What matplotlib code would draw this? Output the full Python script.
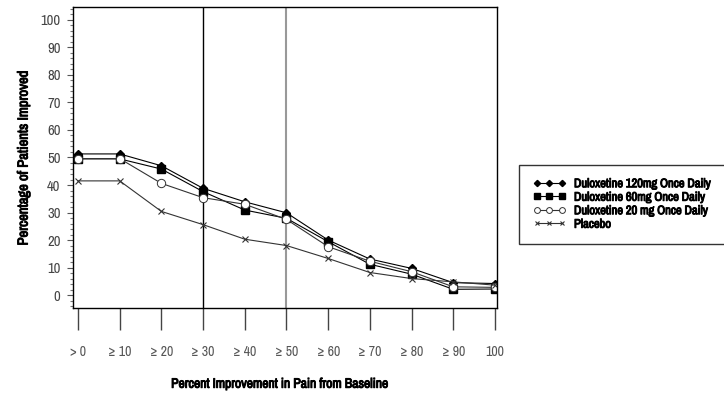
import matplotlib
matplotlib.use("Agg")
import matplotlib.pyplot as plt
import matplotlib.patheffects as pe
from matplotlib import font_manager
from matplotlib.ticker import MultipleLocator

# x categories (percent improvement in pain from baseline)
categories = ["> 0", "\u2265 10", "\u2265 20", "\u2265 30", "\u2265 40", "\u2265 50",
              "\u2265 60", "\u2265 70", "\u2265 80", "\u2265 90", "100"]

# percentage of patients improved
dlx_120 = [51.3, 51.3, 47.0, 38.8, 33.9, 29.9, 20.0, 13.1, 9.7, 4.5, 4.2]
dlx_60 = [49.5, 49.5, 45.8, 37.6, 30.9, 27.9, 19.4, 11.2, 7.6, 2.1, 2.2]
dlx_20 = [49.6, 49.6, 40.6, 35.4, 33.0, 27.5, 17.6, 12.3, 8.5, 3.0, 2.8]
placebo = [41.5, 41.5, 30.4, 25.6, 20.3, 18.0, 13.3, 8.2, 6.0, 4.8, 3.6]

names = ["Duloxetine 120mg Once Daily", "Duloxetine 60mg Once Daily",
         "Duloxetine 20 mg Once Daily", "Placebo"]

# the original uses a condensed grotesque; take a narrow face if there is one
fonts = font_manager.fontManager.ttflist
narrow = sorted({f.name for f in fonts if "Narrow" in f.name or "Condensed" in f.name})
if narrow:
    plt.rcParams["font.family"] = [narrow[0], "DejaVu Sans"]
else:
    plt.rcParams["font.family"] = ["DejaVu Sans"]

# fake a heavier cut with a thin stroke round the glyphs
heavy = [pe.withStroke(linewidth=0.7, foreground="black")]

fig = plt.figure(figsize=(7.24, 3.93), dpi=100)
ax = fig.add_axes([73 / 724, 1 - 308 / 393, 424 / 724, 301 / 393])

x = list(range(len(categories)))
ax.plot(x, dlx_120, color="black", lw=0.8, marker="D", ms=4.5, mfc="black",
        mec="black", label=names[0])
ax.plot(x, dlx_60, color="black", lw=0.8, marker="s", ms=6, mfc="black",
        mec="black", label=names[1])
ax.plot(x, dlx_20, color="#333333", lw=0.8, marker="o", ms=6, mfc="white",
        mec="#333333", mew=0.7, label=names[2])
ax.plot(x, placebo, color="#333333", lw=0.8, marker="x", ms=5, mew=0.8,
        label=names[3])

ax.axvline(3, color="black", lw=1.0, zorder=0)
ax.axvline(5, color="#999999", lw=1.5, zorder=0)

ax.set_xlim(-0.12, 10.05)
ax.set_ylim(-4.7, 104.7)

ax.yaxis.set_major_locator(MultipleLocator(10))
ax.yaxis.set_minor_locator(MultipleLocator(2))
ax.tick_params(axis="y", which="major", direction="out", length=4, width=0.8,
               color="#555555", labelsize=10.5, labelcolor="#444444", pad=5)
ax.tick_params(axis="y", which="minor", direction="out", length=2.5, width=0.8,
               color="#777777")

ax.set_xticks(x)
ax.set_xticklabels(categories)
ax.tick_params(axis="x", direction="out", length=16, width=1.0, color="#444444",
               labelsize=10, labelcolor="#555555", pad=11)

for s in ax.spines.values():
    s.set_linewidth(1.0)
    s.set_color("black")

ax.set_ylabel("Percentage of Patients Improved", fontsize=10.5,
              fontweight="bold", path_effects=heavy)
ax.yaxis.set_label_coords(-0.10, 0.5)
ax.set_xlabel("Percent Improvement in Pain from Baseline", fontsize=9.8,
              fontweight="bold", path_effects=heavy)
ax.xaxis.set_label_coords(0.49, -0.235)

leg = ax.legend(loc="center left", bbox_to_anchor=(519 / 724, 1 - 204 / 393),
                bbox_transform=fig.transFigure, borderaxespad=0.0, numpoints=3,
                prop={"weight": "bold", "size": 9},
                frameon=True, fancybox=False, edgecolor="black",
                handlelength=2.6, handletextpad=0.7, labelspacing=0.2,
                borderpad=1.1, markerscale=0.7)
leg.get_frame().set_linewidth(1.0)
for t in leg.get_texts():
    t.set_path_effects(heavy)

fig.savefig("out.png", dpi=100)
